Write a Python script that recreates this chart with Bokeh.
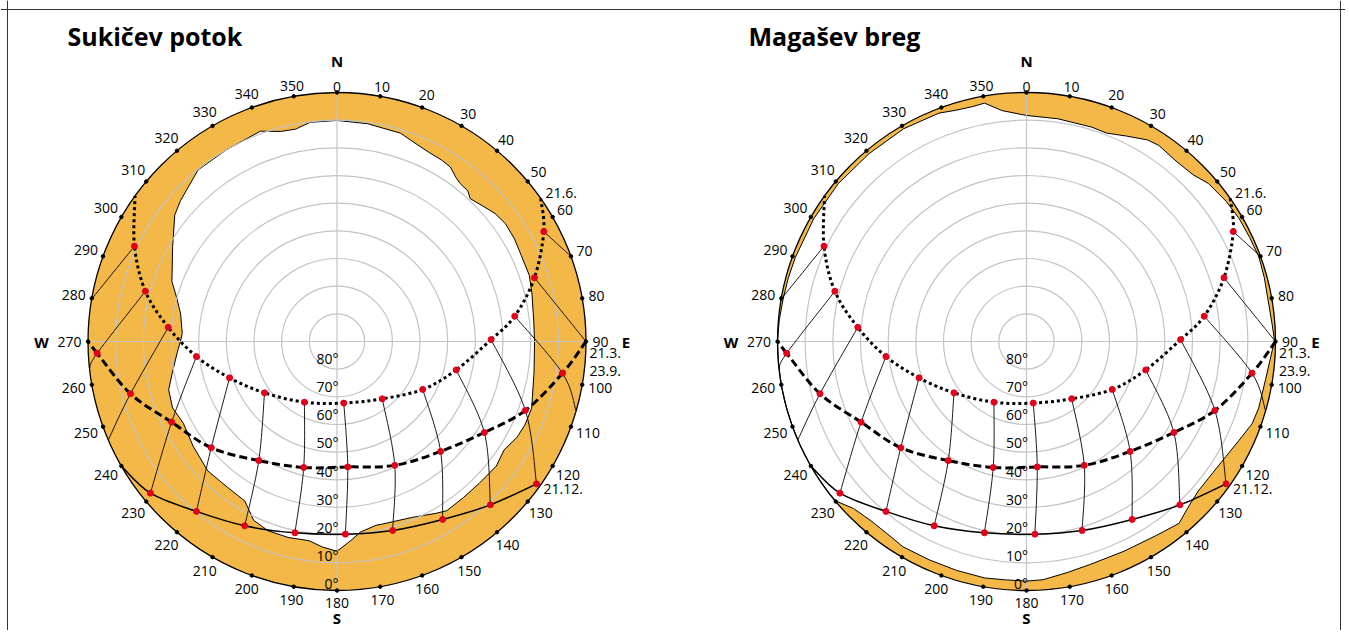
import math
from bokeh.plotting import figure
from bokeh.models import Range1d, Span, ColumnDataSource
from bokeh.core.properties import value
from bokeh.embed import file_html
from bokeh.resources import INLINE

# ---------------- data ----------------
titles = ["Sukičev potok", "Magašev breg"]

# horizon profile: azimuth (deg) -> horizon elevation (deg)
sukicev_az = [0, 8, 17, 22, 26, 30, 33, 36, 38, 41, 43, 47, 51, 55, 60, 65, 71, 76, 84, 90,
              99, 109, 114, 118, 123, 128, 135, 141, 147, 150, 157, 166, 168, 173, 176, 180,
              184, 188, 194, 200, 205, 210, 217, 225, 234, 242, 248, 254, 259, 266, 270, 273,
              280, 285, 290, 300, 308, 312, 321, 330, 340, 345, 349, 353]
sukicev_el = [10.1, 10.5, 11.3, 13.1, 14.0, 14.3, 14.8, 16.8, 17.6, 17.9, 19.4, 18.1, 16.5, 15.7,
              15.9, 16.5, 16.5, 17.4, 18.5, 18.6, 17.9, 15.6, 15.7, 16.3, 18.0, 16.9, 17.4, 17.4,
              17.1, 18.3, 20.9, 22.0, 22.1, 20.6, 17.9, 14.2, 15.5, 17.3, 17.0, 17.2, 18.7, 23.4,
              24.1, 23.9, 25.7, 27.1, 25.9, 26.7, 29.3, 32.1, 33.4, 34.0, 32.6, 30.1, 26.5, 21.4,
              15.6, 13.9, 10.2, 10.0, 9.1, 11.4, 11.8, 10.2]

magasev_az = [0, 8, 17, 21, 26, 31, 34, 40, 45, 49, 55, 60, 65, 70, 75, 80, 86, 90, 92, 99, 106,
              110, 115, 120, 125, 131, 136, 140, 146, 155, 164, 170, 176, 180, 185, 190, 197, 204,
              211, 216, 221, 226, 230, 232, 236, 240, 245, 250, 255, 260, 265, 270, 275, 280, 285,
              290, 300, 310, 320, 330, 339, 343, 347, 350, 354]
magasev_el = [8.3, 8.7, 9.0, 9.3, 7.4, 5.0, 4.5, 5.3, 4.8, 2.9, 1.8, 1.2, 1.0, 0.6, 1.0, 1.4, 1.0,
              0.3, 1.1, 2.5, 2.7, 3.2, 5.3, 6.8, 7.6, 7.7, 6.2, 4.2, 5.6, 6.4, 6.2, 5.2, 3.7, 3.4,
              3.5, 3.2, 3.5, 3.6, 3.4, 4.2, 4.2, 3.1, 0.2, 0.0, 0.0, 0.0, 0.0, 0.0, 0.0, 0.0, 0.0,
              0.0, 0.3, 0.7, 0.9, 1.1, 1.2, 1.2, 1.4, 1.2, 1.6, 2.6, 2.9, 2.5, 6.1]

# sun paths (azimuth, elevation); hour = clock hour of the red dot, None = end point
summer_az = [54.9, 62.0, 72.1, 81.9, 89.3, 103.4, 119.2, 141.7, 173.7, 208.2, 234.7, 251.3,
             263.9, 274.8, 284.7, 295.2, 305.8]
summer_el = [0.0, 5.35, 15.0, 25.1, 34.3, 45.7, 54.5, 63.6, 67.6, 65.1, 57.9, 49.0, 38.9, 28.8,
             18.4, 9.1, 0.0]
summer_hour = [None, 5, 6, 7, 8, 9, 10, 11, 12, 13, 14, 15, 16, 17, 18, 19, None]

equinox_az = [90.0, 98.0, 110.1, 121.7, 136.7, 155.0, 175.1, 194.8, 213.3, 229.8, 244.0, 255.8,
              267.2, 270.0]
equinox_el = [0.0, 7.7, 17.5, 27.4, 35.4, 40.6, 44.5, 42.9, 38.5, 30.5, 23.5, 13.0, 3.2, 0.0]
equinox_hour = [None, 7, 8, 9, 10, 11, 12, 13, 14, 15, 16, 17, 18, None]

winter_az = [125.5, 136.8, 149.3, 163.6, 177.5, 192.4, 206.6, 219.6, 230.9, 240.0]
winter_el = [1.4, 9.0, 15.2, 18.8, 20.3, 19.2, 15.5, 10.3, 3.1, 0.0]
winter_hour = [8, 9, 10, 11, 12, 13, 14, 15, 16, None]

# where an hour line meets the horizon circle (elevation 0)
hour_end_hour = [5, 6, 7, 17, 18, 19]
hour_end_az = [70.0, 90.0, 106.2, 246.7, 263.7, 279.8]

azimuth_ticks = list(range(0, 360, 10))
elevation_ticks = [80, 70, 60, 50, 40, 30, 20, 10, 0]
cardinals = ["N", "E", "S", "W"]
date_labels = ["21.6.", "21.3.", "23.9.", "21.12."]

# ---------------- layout / style ----------------
W, H = 1345, 630
CENTERS = [(336.5, 341.0), (1026.0, 341.0)]
TITLE_X = [67.0, 748.0]
TITLE_MID = 35.0
R = 249.0
K = R / 90.0
ORANGE = "#f3b847"
GRID = "#c4c4c4"
RED = "#e2001a"
FONT = value("Open Sans")

p = figure(width=W, height=H, x_range=Range1d(0, W), y_range=Range1d(H, 0),
           x_axis_type=None, y_axis_type=None, toolbar_location=None,
           output_backend="svg", min_border=0, outline_line_color=None)
p.background_fill_color = "white"
p.border_fill_color = "white"

# frame (three visible sides)
p.add_layout(Span(location=7.0, dimension="height", line_color="#333333", line_width=1))
p.add_layout(Span(location=1340.0, dimension="height", line_color="#333333", line_width=1))
p.add_layout(Span(location=9.0, dimension="width", line_color="#333333", line_width=1))


def polar(c, az, el):
    r = (90.0 - el) * K
    a = math.radians(az)
    return c[0] + r * math.sin(a), c[1] - r * math.cos(a)


def smooth(xs, ys):
    n = len(xs)
    d = dict(x0=[], y0=[], x1=[], y1=[], cx0=[], cy0=[], cx1=[], cy1=[])
    for i in range(n - 1):
        a = i - 1 if i > 0 else i
        b = i + 2 if i + 2 < n else i + 1
        d["x0"].append(xs[i]); d["y0"].append(ys[i])
        d["x1"].append(xs[i + 1]); d["y1"].append(ys[i + 1])
        d["cx0"].append(xs[i] + (xs[i + 1] - xs[a]) / 6.0)
        d["cy0"].append(ys[i] + (ys[i + 1] - ys[a]) / 6.0)
        d["cx1"].append(xs[i + 1] - (xs[b] - xs[i]) / 6.0)
        d["cy1"].append(ys[i + 1] - (ys[b] - ys[i]) / 6.0)
    return ColumnDataSource(d)


def draw_bezier(xs, ys, **kw):
    src = smooth(xs, ys)
    p.bezier(x0="x0", y0="y0", x1="x1", y1="y1", cx0="cx0", cy0="cy0",
             cx1="cx1", cy1="cy1", source=src, **kw)


horizons = [(sukicev_az, sukicev_el), (magasev_az, magasev_el)]
paths = [(summer_az, summer_el, summer_hour),
         (equinox_az, equinox_el, equinox_hour),
         (winter_az, winter_el, winter_hour)]

TXT = dict(text_font=FONT, text_color="black", text_baseline="middle")

for ci, c in enumerate(CENTERS):
    h_az, h_el = horizons[ci]
    ring = [polar(c, a, 0.0) for a in range(0, 360)]
    hole = [polar(c, a, e) for a, e in zip(h_az, h_el)]
    p.multi_polygons(xs=[[[[q[0] for q in ring], [q[0] for q in hole]]]],
                     ys=[[[[q[1] for q in ring], [q[1] for q in hole]]]],
                     fill_color=ORANGE, line_color=None)
    p.line([q[0] for q in hole] + [hole[0][0]], [q[1] for q in hole] + [hole[0][1]],
           line_color="black", line_width=1.0)

    p.circle(x=[c[0]] * 8, y=[c[1]] * 8, radius=[(90 - e) * K for e in range(10, 90, 10)],
             fill_color=None, line_color=GRID, line_width=1.2)
    p.segment(x0=[c[0] - R, c[0]], y0=[c[1], c[1] - R], x1=[c[0] + R, c[0]], y1=[c[1], c[1] + R],
              line_color=GRID, line_width=1.2)
    p.circle(x=[c[0]], y=[c[1]], radius=[R], fill_color=None, line_color="black", line_width=1.3)

    tx = [polar(c, a, 0)[0] for a in azimuth_ticks]
    ty = [polar(c, a, 0)[1] for a in azimuth_ticks]
    p.scatter(tx, ty, size=3.5, color="black", marker="circle")

    for hr in range(5, 20):
        pts = []
        for az_l, el_l, hr_l in paths:
            if hr in hr_l:
                j = hr_l.index(hr)
                pts.append(polar(c, az_l[j], el_l[j]))
        if hr in hour_end_hour:
            pts.append(polar(c, hour_end_az[hour_end_hour.index(hr)], 0.0))
        if len(pts) >= 2:
            draw_bezier([q[0] for q in pts], [q[1] for q in pts], line_color="black", line_width=0.9)

    styles = [dict(line_width=3.0, line_dash="3 3"),
              dict(line_width=3.0, line_dash="8 4"),
              dict(line_width=1.5)]
    for (az_l, el_l, hr_l), st in zip(paths, styles):
        pts = [polar(c, a, e) for a, e in zip(az_l, el_l)]
        draw_bezier([q[0] for q in pts], [q[1] for q in pts], line_color="black", **st)
    for az_l, el_l, hr_l in paths:
        pts = [polar(c, a, e) for a, e, h in zip(az_l, el_l, hr_l) if h is not None]
        p.scatter([q[0] for q in pts], [q[1] for q in pts], size=6, color=RED, marker="circle")

    # azimuth labels (placed by their visual centre)
    special = {0: 5.5, 10: 9.5, 350: 10.0}
    lx, ly, lt = [], [], []
    for a in azimuth_ticks:
        s = str(a)
        hw = len(s) * 8.0 / 2.0
        rad = special.get(a, 12.5 + (hw - 6.0) * abs(math.sin(math.radians(a))))
        rr = R + rad
        lx.append(c[0] + rr * math.sin(math.radians(a)))
        ly.append(c[1] - rr * math.cos(math.radians(a)))
        lt.append(s)
    p.text(lx, ly, text=lt, text_font_size="14px", text_align="center", **TXT)

    p.text([c[0] + 1.5] * len(elevation_ticks),
           [c[1] + (90 - e) * 2.81 - 11.0 for e in elevation_ticks],
           text=[f"{e}°" for e in elevation_ticks], text_font_size="14px",
           text_align="right", **TXT)

    card_off = [(0.0, -280.7), (289.0, 0.3), (0.0, 276.5), (-295.5, 0.3)]
    p.text([c[0] + o[0] for o in card_off], [c[1] + o[1] for o in card_off], text=cardinals,
           text_font_size="15px", text_font_style="bold", text_align="center", **TXT)

    date_off = [(208.5, -148.7), (252.5, 11.0), (252.5, 29.0), (206.5, 147.0)]
    p.text([c[0] + o[0] for o in date_off], [c[1] + o[1] for o in date_off], text=date_labels,
           text_font_size="14px", text_align="left", **TXT)

    p.text([TITLE_X[ci]], [TITLE_MID], text=[titles[ci]], text_font_size="25px",
           text_font_style="bold", text_align="left", **TXT)

open("out.html", "w").write(file_html(p, INLINE))
